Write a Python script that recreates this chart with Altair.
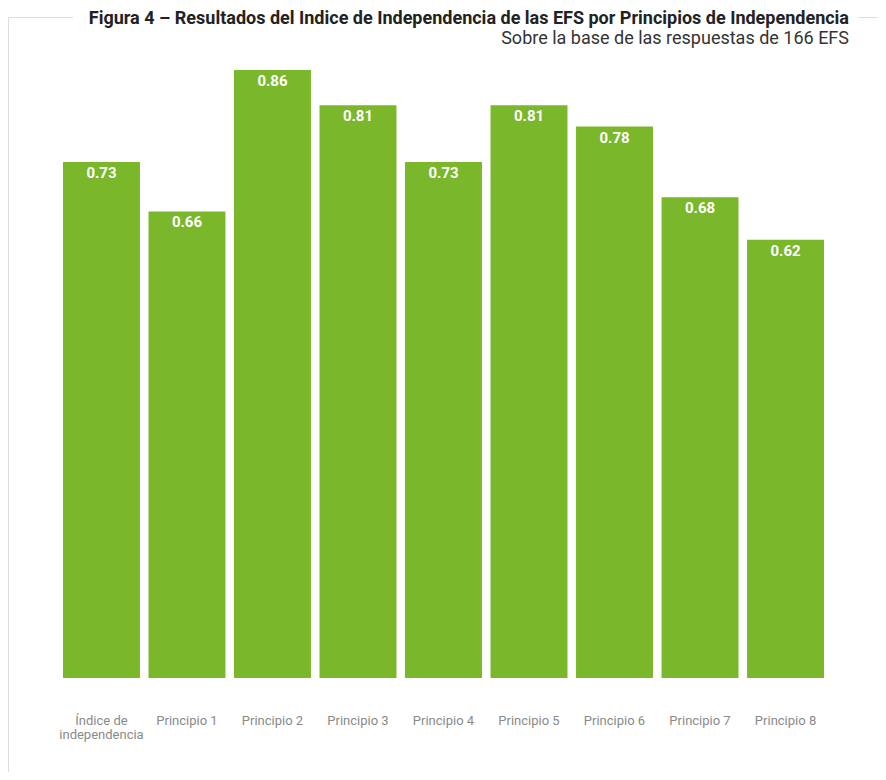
import altair as alt
import pandas as pd

categories = ["Índice de independencia", "Principio 1", "Principio 2", "Principio 3",
              "Principio 4", "Principio 5", "Principio 6", "Principio 7", "Principio 8"]
values = [0.73, 0.66, 0.86, 0.81, 0.73, 0.81, 0.78, 0.68, 0.62]

title_text = "Figura 4 – Resultados del Indice de Independencia de las EFS por Principios de Independencia"
subtitle_text = "Sobre la base de las respuestas de 166 EFS"

df = pd.DataFrame({"cat": categories, "val": values})

GREEN = "#7ab72b"
LINE = "#dcdcdc"

base = alt.Chart(df).encode(
    x=alt.X("cat:N", sort=categories,
            scale=alt.Scale(paddingInner=0.1, paddingOuter=0),
            axis=alt.Axis(title=None, labelAngle=0, domain=False, ticks=False,
                          labelFont="Roboto", labelFontSize=13, labelColor="#8a8a8a",
                          labelPadding=36, labelLineHeight=14,
                          labelExpr="datum.label == 'Índice de independencia' ? ['Índice de', 'independencia'] : datum.label")),
    y=alt.Y("val:Q", scale=alt.Scale(domain=[0, 0.86], nice=False, zero=True),
            axis=None),
)

bars = base.mark_bar(color=GREEN)
labels = base.mark_text(color="white", font="Roboto", fontWeight="bold", fontSize=15,
                        baseline="middle", dy=11).encode(text=alt.Text("val:Q", format=".2f"))

one = pd.DataFrame({"a": [0]})
left_v = alt.Chart(one).mark_rule(color=LINE, strokeWidth=1).encode(
    x=alt.value(-54.5), y=alt.value(-52.5), y2=alt.value(720))
right_v = alt.Chart(one).mark_rule(color=LINE, strokeWidth=1).encode(
    x=alt.value(815.5), y=alt.value(-52.5), y2=alt.value(720))
top_l = alt.Chart(one).mark_rule(color=LINE, strokeWidth=1).encode(
    x=alt.value(-54.5), x2=alt.value(10), y=alt.value(-52.5))
top_r = alt.Chart(one).mark_rule(color=LINE, strokeWidth=1).encode(
    x=alt.value(795), x2=alt.value(815.5), y=alt.value(-52.5))

title = alt.Chart(pd.DataFrame({"t": [title_text]})).mark_text(
    font="Roboto", fontSize=18, fontWeight="bold", color="#222222",
    align="right", baseline="alphabetic").encode(
    x=alt.value(786), y=alt.value(-46), text="t:N")
subtitle = alt.Chart(pd.DataFrame({"t": [subtitle_text]})).mark_text(
    font="Roboto", fontSize=18, color="#333333",
    align="right", baseline="alphabetic").encode(
    x=alt.value(786), y=alt.value(-26), text="t:N")

chart = alt.layer(left_v, right_v, top_l, top_r, title, subtitle, bars, labels).properties(
    width=761, height=608,
    autosize=alt.AutoSizeParams(type="none"),
    padding={"left": 55, "top": 62, "right": 54, "bottom": 94},
).configure_view(stroke=None)

chart.save("out.html", embed_options={"renderer": "svg", "actions": False})
